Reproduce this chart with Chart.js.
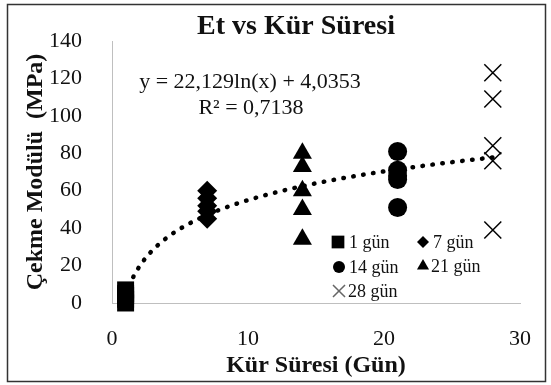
<!DOCTYPE html>
<html>
<head>
<meta charset="utf-8">
<script src="https://cdn.jsdelivr.net/npm/chart.js@4.4.1/dist/chart.umd.min.js"></script>
<style>
  html, body { margin: 0; padding: 0; background: #fff; }
</style>
</head>
<body>
<canvas id="myChart" width="551" height="385"></canvas>
<script>
// cure day (x) where each group is plotted, as it appears on the chart
const groupDays = [1, 7, 21, 14, 28];
const groupLabels = ['1 gün', '7 gün', '14 gün', '21 gün', '28 gün'];
const day1 = [0, 2, 4, 5, 7];
const day7 = [60, 56, 52, 49, 45];
const day14 = [81, 71, 68, 66, 51];
const day21 = [80, 73, 60, 50, 34];
const day28 = [123, 109, 84, 76, 39];
const xTicks = [0, 10, 20, 30];
const yTicks = [0, 20, 40, 60, 80, 100, 120, 140];

// log trendline as printed on the chart
const trendA = 22.129;
const trendB = 4.0353;
const trendRange = [1, 28];
const trendText = ['y = 22,129ln(x) + 4,0353', 'R² = 0,7138'];

const groups = [day1, day7, day14, day21, day28];
const styles = ['rect', 'rectRot', 'circle', 'triangle', 'crossRot'];
const radii = [12, 10, 9.5, 11, 12];
const FONT = "'Liberation Serif', 'Times New Roman', serif";
const INK = '#111';

Chart.defaults.font.family = FONT;
Chart.defaults.color = INK;

let trendPts = [];
for (let x = trendRange[0]; x <= trendRange[1] + 0.001; x += 0.25) {
  trendPts.push({ x: x, y: trendA * Math.log(x) + trendB });
}

let datasets = groups.map(function (vals, i) {
  return {
    label: groupLabels[i],
    data: vals.map(function (v) { return { x: groupDays[i], y: v }; }),
    pointStyle: styles[i],
    pointRadius: radii[i],
    pointHoverRadius: radii[i],
    backgroundColor: '#000',
    borderColor: '#000',
    pointBorderWidth: styles[i] == 'crossRot' ? 1.5 : 0,
    showLine: false,
    clip: false,
    order: 1
  };
});

datasets.push({
  label: 'trend',
  data: trendPts,
  showLine: true,
  pointRadius: 0,
  borderColor: '#000',
  borderWidth: 4.5,
  borderCapStyle: 'round',
  borderDash: [0.5, 9.5],
  tension: 0,
  order: 10
});

const legendSpots = [
  { x: 338, y: 242, tx: 349, r: 9 },
  { x: 423, y: 242, tx: 433, r: 6 },
  { x: 339, y: 267, tx: 349, r: 6 },
  { x: 423, y: 266, tx: 431, r: 7 },
  { x: 339, y: 291, tx: 348, r: 8.5 }
];

const decor = {
  id: 'decor',
  beforeDraw(chart) {
    const c = chart.ctx;
    c.save();
    c.fillStyle = '#fff';
    c.fillRect(0, 0, chart.width, chart.height);
    c.strokeStyle = '#333';
    c.lineWidth = 1.5;
    c.strokeRect(7.5, 4.5, 538, 377);
    c.restore();
  },
  afterDraw(chart) {
    const c = chart.ctx;
    c.save();
    c.fillStyle = INK;
    c.textAlign = 'center';
    c.textBaseline = 'middle';
    c.font = 'bold 28px ' + FONT;
    c.fillText('Et vs Kür Süresi', 296, 27);

    c.font = '22px ' + FONT;
    c.fillText(trendText[0], 250, 82);
    c.fillText(trendText[1], 251, 108);

    // legend inside plot
    c.textAlign = 'left';
    c.font = '18px ' + FONT;
    legendSpots.forEach(function (s, i) {
      const isCross = styles[i] == 'crossRot';
      c.fillStyle = '#000';
      c.strokeStyle = isCross ? '#666' : '#000';
      Chart.helpers.drawPoint(c, {
        pointStyle: styles[i],
        radius: s.r,
        rotation: 0,
        borderWidth: isCross ? 1.2 : 0
      }, s.x, s.y);
      c.fillStyle = INK;
      c.fillText(groupLabels[i], s.tx, s.y + 1);
    });
    c.restore();
  }
};

const ctx = document.getElementById('myChart').getContext('2d');
const chart = new Chart(ctx, {
  type: 'scatter',
  data: { datasets: datasets },
  options: {
    responsive: false,
    animation: false,
    layout: { padding: { left: 21, right: 31, top: 41, bottom: 5 } },
    plugins: {
      legend: { display: false },
      tooltip: { enabled: false },
      title: { display: false }
    },
    scales: {
      x: {
        type: 'linear',
        min: xTicks[0],
        max: xTicks[xTicks.length - 1],
        afterBuildTicks: function (axis) {
          axis.ticks = xTicks.map(function (v) { return { value: v }; });
        },
        afterFit: function (axis) { axis.height = 77; },
        grid: { display: false },
        border: { color: '#bfbfbf', width: 1 },
        ticks: { padding: 15, font: { size: 22 }, color: INK, maxRotation: 0 },
        title: {
          display: true,
          text: 'Kür Süresi (Gün)',
          font: { size: 24, weight: 'bold' },
          padding: 0,
          color: INK
        }
      },
      y: {
        min: yTicks[0],
        max: yTicks[yTicks.length - 1],
        afterBuildTicks: function (axis) {
          axis.ticks = yTicks.map(function (v) { return { value: v }; });
        },
        afterFit: function (axis) { axis.width = 91; },
        grid: { display: false },
        border: { color: '#bfbfbf', width: 1 },
        ticks: { padding: 22, font: { size: 22 }, color: INK },
        title: {
          display: true,
          text: 'Çekme Modülü  (MPa)',
          font: { size: 24, weight: 'bold' },
          padding: 0,
          color: INK
        }
      }
    }
  },
  plugins: [decor]
});
</script>
</body>
</html>
